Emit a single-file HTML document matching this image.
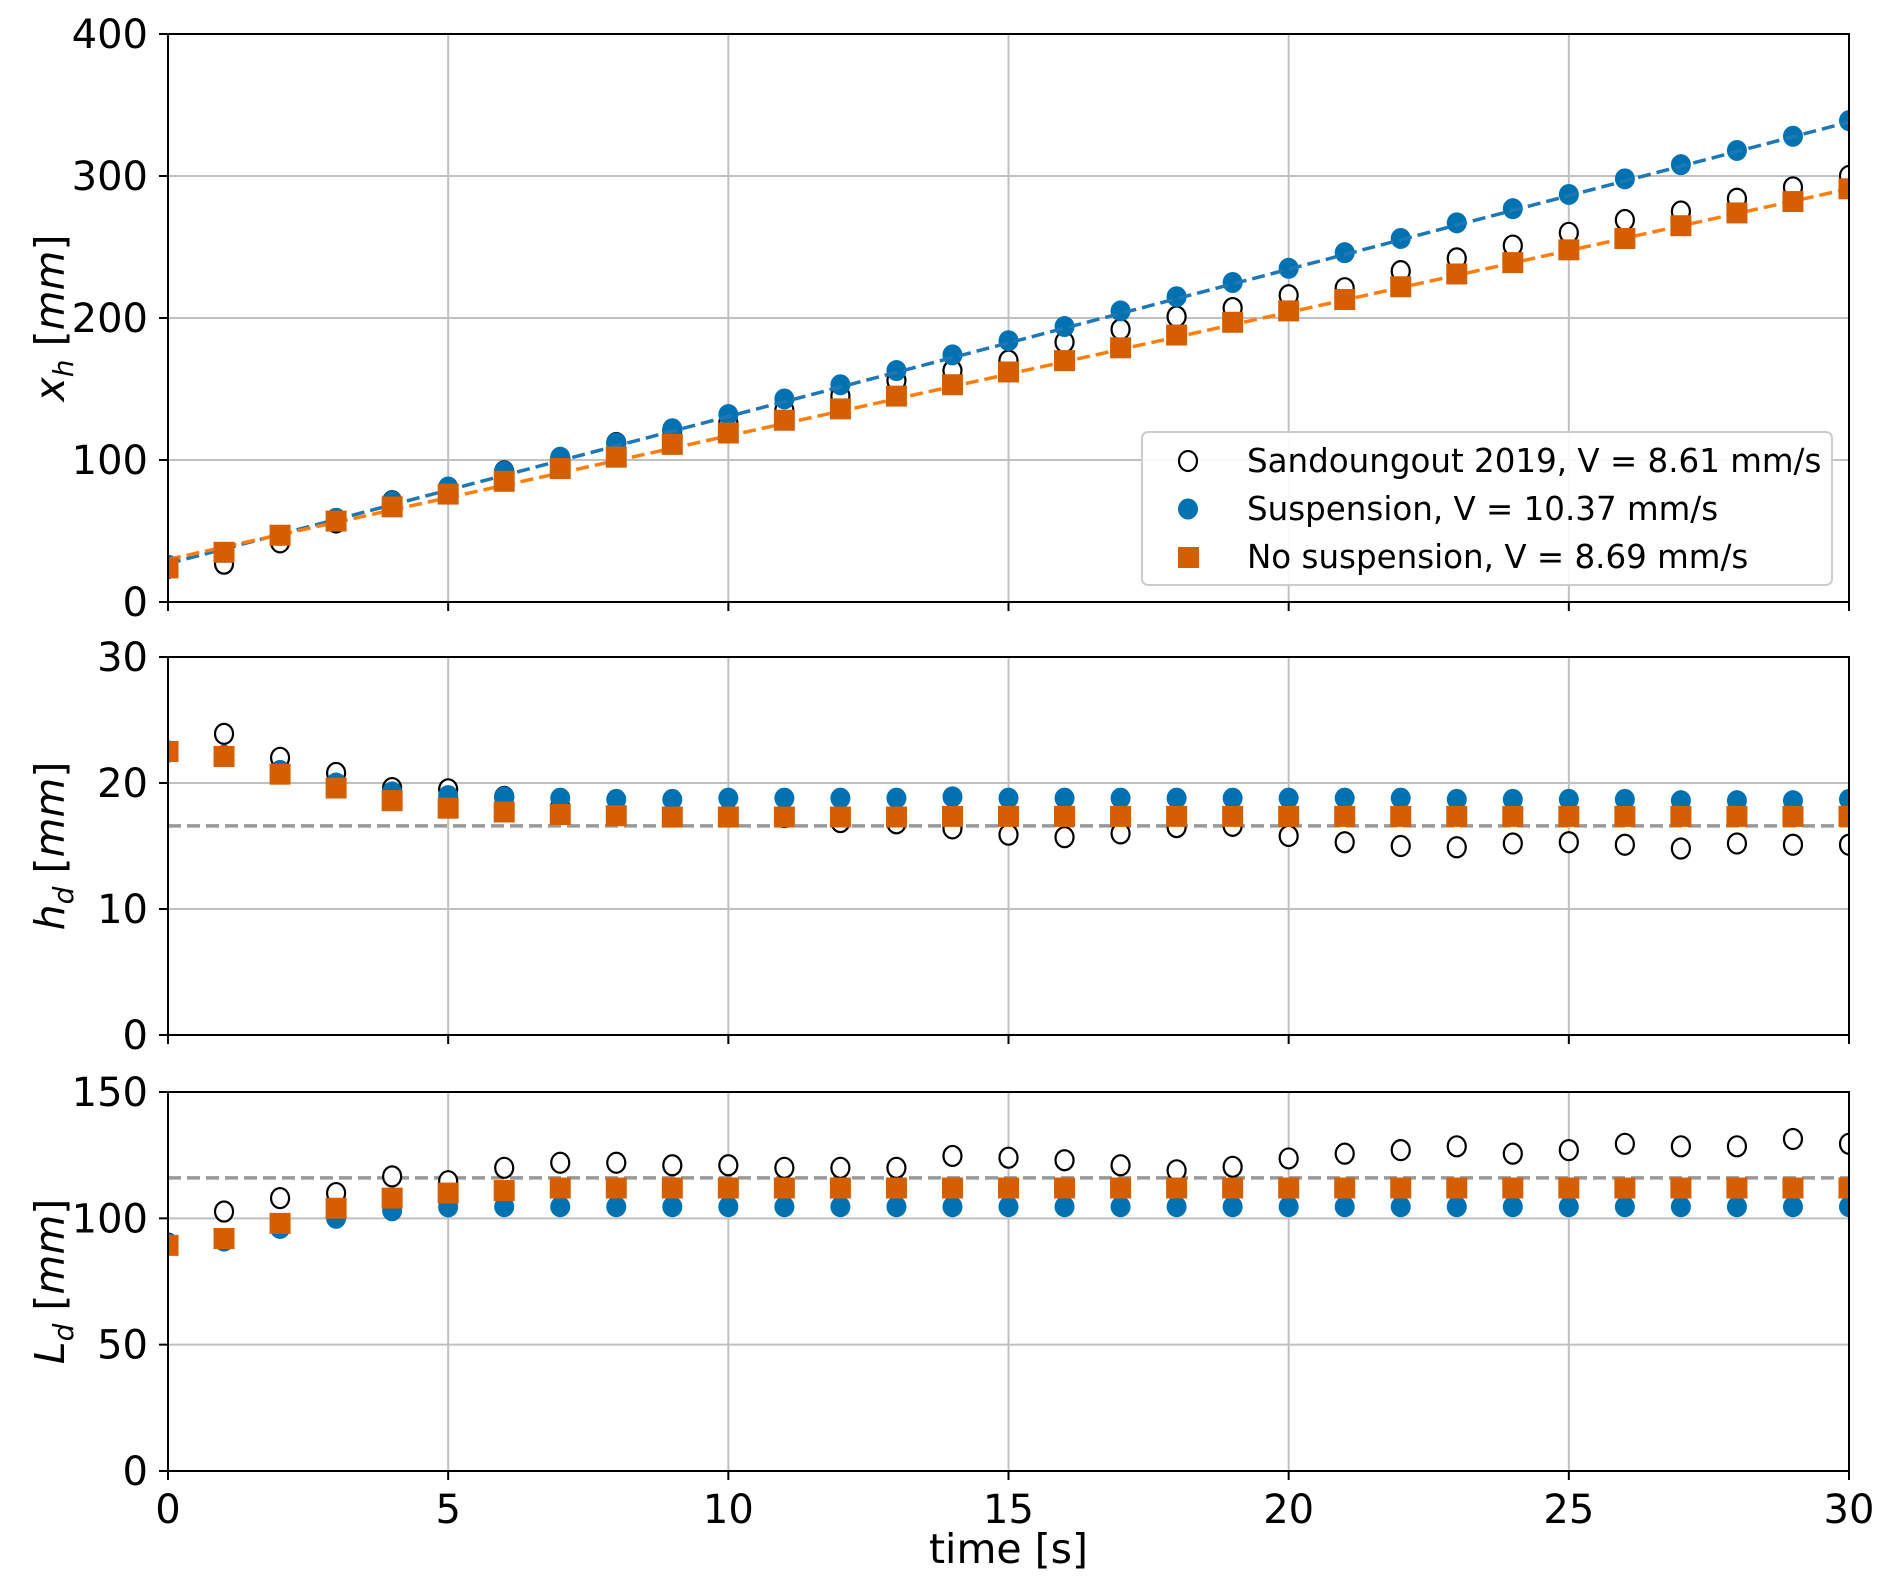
<!DOCTYPE html>
<html><head><meta charset="utf-8"><style>
html,body{margin:0;padding:0;background:#fff;}
svg text{font-family:"DejaVu Sans","Liberation Sans",sans-serif;fill:#000;}
</style></head><body>
<svg id="chart" width="1892" height="1589" viewBox="0 0 1892 1589" xmlns="http://www.w3.org/2000/svg"></svg>
<script>
const times=[0,1,2,3,4,5,6,7,8,9,10,11,12,13,14,15,16,17,18,19,20,21,22,23,24,25,26,27,28,29,30];
const xTicks=[0,5,10,15,20,25,30];
// panel 1: x_h
const xhSand=[24,27,42,56,71,80,92,101,112,121,126,135,145,156,163,170,183,192,201,207,216,221,233,242,251,260,269,275,284,292,300];
const xhSusp=[26,35,47,59,71,81,92,102,112,122,132,143,153,163,174,184,194,205,215,225,235,246,256,267,277,287,298,308,318,328,339];
const xhNo=[24,35,47,57,67,76,85,94,102,111,119,128,136,145,153,162,170,179,188,197,205,213,222,231,239,248,256,265,274,282,291];
const fitSusp=[27,338];
const fitNo=[30,291];
const xhTicks=[0,100,200,300,400];
// panel 2: h_d
const hdSand=[22.5,23.9,22,20.8,19.6,19.5,18.9,18.1,17.7,17.5,17.5,17.3,16.9,16.8,16.4,15.9,15.7,16,16.5,16.6,15.8,15.3,15,14.9,15.2,15.3,15.1,14.8,15.2,15.1,15.1];
const hdSusp=[22.5,22.2,21,20,19.3,19,18.9,18.8,18.7,18.7,18.8,18.8,18.8,18.8,18.9,18.8,18.8,18.8,18.8,18.8,18.8,18.8,18.8,18.7,18.7,18.7,18.7,18.6,18.6,18.6,18.7];
const hdNo=[22.5,22.1,20.7,19.6,18.6,18,17.7,17.5,17.4,17.3,17.3,17.3,17.3,17.3,17.35,17.35,17.35,17.35,17.35,17.35,17.35,17.35,17.35,17.35,17.35,17.35,17.35,17.35,17.35,17.35,17.35];
const hdMean=[16.6];
const hdTicks=[0,10,20,30];
// panel 3: L_d
const ldSand=[90,102.7,108,110,116.6,114.7,120,122,122,121,121,120,120,120,124.7,124,123,121,119,120.4,123.7,125.6,127,128.5,125.6,127,129.5,128.5,128.5,131.4,129.5];
const ldSusp=[90,91,96,100,103,104.5,104.6,104.6,104.6,104.6,104.6,104.6,104.6,104.6,104.6,104.6,104.6,104.6,104.6,104.6,104.6,104.6,104.6,104.6,104.6,104.6,104.6,104.6,104.6,104.6,104.6];
const ldNo=[89.3,92,98,104,108,110,111,112,112,112,112,112,112,112,112,112,112,112,112,112,112,112,112,112,112,112,112,112,112,112,112];
const ldMean=[116];
const ldTicks=[0,50,100,150];

const NS='http://www.w3.org/2000/svg';
const svg=document.getElementById('chart');
function mk(tag,attrs,parent){const e=document.createElementNS(NS,tag);for(const k in attrs)e.setAttribute(k,attrs[k]);(parent||svg).appendChild(e);return e;}
const X0=168,X1=1849;
function sx(t){return X0+(t-0)/(30-0)*(X1-X0);}
const BLUE='#0072B2',ORANGE='#D55E00';

function panel(name,top,bot,ymax,yTicks,sand,susp,no,fits,mean,labelMain,labelSub,showX){
  const g=mk('g',{});
  
  
  const sy=v=>bot-(v/ymax)*(bot-top);
  xTicks.forEach(t=>{const l=mk('line',{x1:sx(t),x2:sx(t),y1:top,y2:bot,stroke:'#c0c0c0','stroke-width':2},g);
    });
  yTicks.forEach(v=>{const l=mk('line',{x1:X0,x2:X1,y1:sy(v),y2:sy(v),stroke:'#c0c0c0','stroke-width':2},g);
    
    const tk=mk('line',{x1:X0-9,x2:X0,y1:sy(v),y2:sy(v),stroke:'#000','stroke-width':2},g);
    
    const tx=mk('text',{x:X0-20,y:sy(v)+14,'text-anchor':'end','font-size':40},g);tx.textContent=v;
    });
  xTicks.forEach(t=>{const tk=mk('line',{x1:sx(t),x2:sx(t),y1:bot,y2:bot+9,stroke:'#000','stroke-width':2},g);
    
    if(showX){const tx=mk('text',{x:sx(t),y:bot+52,'text-anchor':'middle','font-size':40},g);tx.textContent=t;
      }});
  if(mean){const l=mk('line',{x1:X0,x2:X1,y1:sy(mean[0]),y2:sy(mean[0]),stroke:'#999','stroke-width':3.5,'stroke-dasharray':'13,6'},g);
    }
  const clip=name+'-clip';
  const cp=mk('clipPath',{id:clip},g);mk('rect',{x:X0,y:top,width:X1-X0,height:bot-top},cp);
  const mg=mk('g',{'clip-path':'url(#'+clip+')'},g);
  times.forEach((t,i)=>{const c=mk('ellipse',{cx:sx(t),cy:sy(sand[i]),rx:9,ry:10,fill:'#fff',stroke:'#000','stroke-width':2.2},mg);
    });
  times.forEach((t,i)=>{const c=mk('ellipse',{cx:sx(t),cy:sy(susp[i]),rx:10,ry:10.5,fill:BLUE},mg);
    });
  if(fits){
    const a=mk('line',{x1:sx(0),y1:sy(fits[0][0]),x2:sx(30),y2:sy(fits[0][1]),stroke:'#1f77b4','stroke-width':3.5,'stroke-dasharray':'13,6'},mg);
    
    const b=mk('line',{x1:sx(0),y1:sy(fits[1][0]),x2:sx(30),y2:sy(fits[1][1]),stroke:'#ff7f0e','stroke-width':3.5,'stroke-dasharray':'13,6'},mg);
    
  }
  times.forEach((t,i)=>{const r=mk('rect',{x:sx(t)-10.5,y:sy(no[i])-10.5,width:21,height:21,fill:ORANGE},mg);
    });
  const fr=mk('rect',{x:X0,y:top,width:X1-X0,height:bot-top,fill:'none',stroke:'#000','stroke-width':2},g);
  
  const yl=mk('text',{transform:`translate(64,${(top+bot)/2}) rotate(-90)`,'text-anchor':'middle','font-size':41},g);
  
  const t1=mk('tspan',{'font-style':'italic'},yl);t1.textContent=labelMain;
  const t2=mk('tspan',{'font-style':'italic','font-size':28,dy:9},yl);t2.textContent=labelSub;
  const t3=mk('tspan',{dy:-9},yl);t3.textContent=' [';
  const t4=mk('tspan',{'font-style':'italic'},yl);t4.textContent='mm';
  const t5=mk('tspan',{},yl);t5.textContent=']';
  return sy;
}
panel('xh',34,602,400,xhTicks,xhSand,xhSusp,xhNo,[fitSusp,fitNo],null,'x','h',false);
panel('hd',657,1035,30,hdTicks,hdSand,hdSusp,hdNo,null,hdMean,'h','d',false);
panel('ld',1092,1471,150,ldTicks,ldSand,ldSusp,ldNo,null,ldMean,'L','d',true);

const xt=mk('text',{x:(X0+X1)/2,y:1563,'text-anchor':'middle','font-size':41});

xt.textContent='time [s]';

const lg=mk('g',{});

const lb=mk('rect',{x:1142,y:432,width:690,height:153,rx:6,fill:'#fff','fill-opacity':0.9,stroke:'#ccc','stroke-width':2},lg);

const e1=mk('ellipse',{cx:1188,cy:461,rx:9,ry:10,fill:'#fff',stroke:'#000','stroke-width':2.2},lg);

const e2=mk('ellipse',{cx:1188,cy:509,rx:10,ry:10.5,fill:BLUE},lg);

const e3=mk('rect',{x:1178,y:547,width:21,height:21,fill:ORANGE},lg);

[['Sandoungout 2019, V = 8.61 mm/s',472,'legend-entry-sandoungout'],['Suspension, V = 10.37 mm/s',520,'legend-entry-suspension'],['No suspension, V = 8.69 mm/s',568,'legend-entry-no-suspension']].forEach(a=>{
  const t=mk('text',{x:1247,y:a[1],'font-size':32.5},lg);t.textContent=a[0];
  
});
</script>
</body></html>
